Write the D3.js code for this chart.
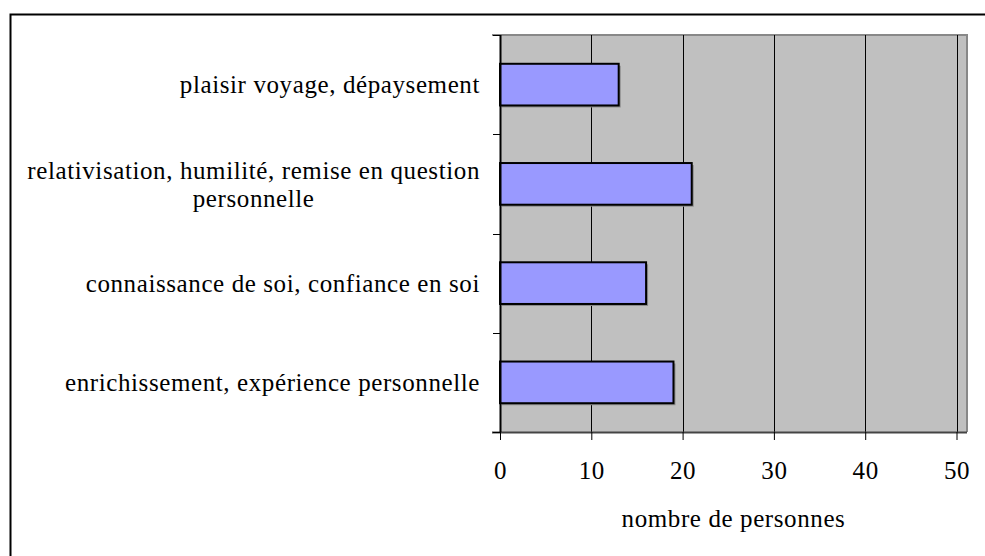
<!DOCTYPE html>
<html>
<head>
<meta charset="utf-8">
<script src="https://cdn.jsdelivr.net/npm/d3@7"></script>
<style>
  body { margin: 0; background: #fff; }
</style>
</head>
<body>
<div id="chart"></div>
<script>
// chart data
const categories = [
    ["plaisir voyage, dépaysement"],
    ["relativisation, humilité, remise en question", "personnelle"],
    ["connaissance de soi, confiance en soi"],
    ["enrichissement, expérience personnelle"]
];
const values = [13, 21, 16, 19];
const xTicks = [0, 10, 20, 30, 40, 50];
const xTitle = "nombre de personnes";

const FONT = "Liberation Serif";
const FSIZE = "25px";
const SPACING = "0.6px";

const width = 985, height = 556;
const margin = {top: 35, right: 18, bottom: 124, left: 500};
const plotW = width - margin.left - margin.right;
const plotH = height - margin.top - margin.bottom;

let svg = d3.select("#chart")
    .append("svg")
    .attr("width", width)
    .attr("height", height);

// outer frame (only top and left show in the picture)
svg.append("path")
    .attr("d", `M10.5,${height} V14.5 H${width}`)
    .attr("fill", "none")
    .attr("stroke", "#000")
    .attr("stroke-width", 2);

let g = svg.append("g")
    .attr("transform", `translate(${margin.left}, ${margin.top})`);

let x = d3.scaleLinear()
    .domain([0, 51.15])
    .range([0, plotW]);

let y = d3.scaleBand()
    .domain(d3.range(categories.length))
    .range([0, plotH])
    .paddingInner(0.58)
    .paddingOuter(0.29);

// plot background
g.append("rect")
    .attr("x", 0).attr("y", 0)
    .attr("width", plotW).attr("height", plotH)
    .attr("fill", "#c0c0c0");

// plot border (top and right, gray)
g.append("path")
    .attr("d", `M-8,0 H${plotW} V${plotH}`)
    .attr("fill", "none")
    .attr("stroke", "#888")
    .attr("stroke-width", 2);

// vertical grid lines
g.selectAll(".grid")
    .data(xTicks.slice(1))
    .enter()
    .append("line")
    .attr("class", "grid")
    .attr("x1", function(d) { return Math.round(x(d)) + 0.5; })
    .attr("x2", function(d) { return Math.round(x(d)) + 0.5; })
    .attr("y1", 0)
    .attr("y2", plotH)
    .attr("stroke", "#000")
    .attr("stroke-width", 1);

// bar shadows
g.selectAll(".shadow")
    .data(values)
    .enter()
    .append("rect")
    .attr("class", "shadow")
    .attr("x", x(0) + 2)
    .attr("y", function(d, i) { return y(i) + 2; })
    .attr("width", function(d) { return x(d) - x(0); })
    .attr("height", y.bandwidth())
    .attr("fill", "#8a8a8a");

// bars
g.selectAll(".bar")
    .data(values)
    .enter()
    .append("rect")
    .attr("class", "bar")
    .attr("x", x(0))
    .attr("y", function(d, i) { return y(i); })
    .attr("width", function(d) { return x(d) - x(0); })
    .attr("height", y.bandwidth())
    .attr("fill", "#9999ff")
    .attr("stroke", "#000")
    .attr("stroke-width", 2);

// x axis
let xAxis = g.append("g")
    .attr("transform", `translate(0, ${plotH})`)
    .call(d3.axisBottom(x).tickValues(xTicks).tickSize(8).tickPadding(21));
xAxis.select(".domain")
    .attr("d", `M-8,0.5 H${plotW}`)
    .attr("stroke", "#444")
    .attr("stroke-width", 2);
xAxis.selectAll(".tick line").attr("stroke", "#000");
xAxis.selectAll(".tick text")
    .attr("fill", "#000")
    .style("font-family", FONT)
    .style("font-size", FSIZE)
    .style("letter-spacing", SPACING);

// y axis line and category ticks
g.append("line")
    .attr("x1", 0.5).attr("x2", 0.5)
    .attr("y1", 0).attr("y2", plotH)
    .attr("stroke", "#000").attr("stroke-width", 2);

let step = plotH / categories.length;
g.selectAll(".ytick")
    .data(d3.range(categories.length + 1))
    .enter()
    .append("line")
    .attr("class", "ytick")
    .attr("x1", -7).attr("x2", 0)
    .attr("y1", function(d) { return Math.round(d * step) + 0.5; })
    .attr("y2", function(d) { return Math.round(d * step) + 0.5; })
    .attr("stroke", "#000");

// category labels, right aligned; wrapped lines centred under the first one
let labels = g.selectAll(".cat")
    .data(categories)
    .enter()
    .append("text")
    .attr("class", "cat")
    .style("font-family", FONT)
    .style("font-size", FSIZE)
    .style("letter-spacing", SPACING)
    .attr("transform", function(d, i) {
        return `translate(-20, ${y(i) + y.bandwidth() / 2})`;
    });

labels.each(function(d) {
    let t = d3.select(this);
    let first = t.append("tspan")
        .attr("x", 0)
        .attr("text-anchor", "end")
        .attr("y", -(d.length - 1) / 2 * 28)
        .attr("dy", "0.35em")
        .text(d[0]);
    if (d.length > 1) {
        let w = first.node().getComputedTextLength();
        first.attr("x", -w / 2).attr("text-anchor", "middle");
        for (let k = 1; k < d.length; k++) {
            t.append("tspan")
                .attr("x", -w / 2)
                .attr("text-anchor", "middle")
                .attr("y", (k - (d.length - 1) / 2) * 28)
                .attr("dy", "0.35em")
                .text(d[k]);
        }
    }
});

// x axis title
g.append("text")
    .attr("x", plotW / 2)
    .attr("y", plotH + 86)
    .attr("dy", "0.35em")
    .attr("text-anchor", "middle")
    .style("font-family", FONT)
    .style("font-size", FSIZE)
    .style("letter-spacing", SPACING)
    .text(xTitle);
</script>
</body>
</html>
